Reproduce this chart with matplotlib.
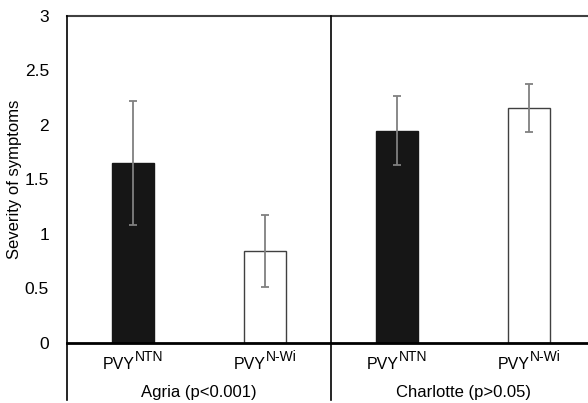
import matplotlib
matplotlib.use("Agg")
import matplotlib.pyplot as plt
from matplotlib.transforms import offset_copy

plt.rcParams['font.family'] = ['Liberation Sans', 'DejaVu Sans']

cultivars = ['Agria (p<0.001)', 'Charlotte (p>0.05)']
strains = ['NTN', 'N-Wi']
means = [1.65, 0.845, 1.945, 2.155]
errors = [0.57, 0.33, 0.315, 0.22]
fills = ['#161616', 'white', '#161616', 'white']
yticks = [0, 0.5, 1, 1.5, 2, 2.5, 3]
ytick_labels = ['0', '0.5', '1', '1.5', '2', '2.5', '3']

fig = plt.figure(figsize=(5.88, 4.03), dpi=100)
ax = fig.add_axes([67/588, 60/403, 528/588, 327.5/403])

x = list(range(len(means)))
ax.bar(x, means, width=0.32, color=fills, edgecolor=['#161616', '#404040', '#161616', '#404040'],
       linewidth=1.0, zorder=2)
ax.errorbar(x, means, yerr=errors, fmt='none', ecolor='#808080', elinewidth=1.3,
            capsize=3, capthick=1.3, zorder=3)

ax.set_xlim(-0.5, 3.5)
ax.set_ylim(0, 3)
ax.set_yticks(yticks)
ax.set_yticklabels(ytick_labels, fontsize=12.5)
ax.set_xticks([])
ax.tick_params(axis='y', length=0, pad=13)
ax.text(-0.0985, 0.5, 'Severity of symptoms', transform=ax.transAxes, rotation=90,
        ha='center', va='center', fontsize=12)

for side in ['right', 'bottom', 'left']:
    ax.spines[side].set_visible(False)
ax.spines['top'].set_color('#404040')
ax.spines['top'].set_linewidth(1.5)

ax.axhline(0, color='black', lw=2, zorder=4, clip_on=False)
ax.axvline(-0.5, ymin=-0.174, ymax=1, color='black', lw=1.2, clip_on=False, zorder=4)
ax.axvline(1.5, ymin=-0.174, ymax=1, color='black', lw=1.2, clip_on=False, zorder=4)

trans = ax.get_xaxis_transform()
renderer = fig.canvas.get_renderer()
main_fs, sup_fs = 11.5, 10
y_base = -0.0794
sup_rise = 8  # pixels
labels = [s for _ in cultivars for s in strains]
for xi, s in zip(x, labels):
    tmp1 = ax.text(0, 0, 'PVY', fontsize=main_fs)
    tmp2 = ax.text(0, 0, s, fontsize=sup_fs)
    w1 = tmp1.get_window_extent(renderer).width
    w2 = tmp2.get_window_extent(renderer).width
    tmp1.remove()
    tmp2.remove()
    total = w1 + w2
    t1 = offset_copy(trans, fig=fig, x=-total / 2, y=0, units='dots')
    ax.text(xi, y_base, 'PVY', transform=t1, ha='left', va='baseline', fontsize=main_fs, clip_on=False)
    t2 = offset_copy(trans, fig=fig, x=-total / 2 + w1, y=sup_rise, units='dots')
    ax.text(xi, y_base, s, transform=t2, ha='left', va='baseline', fontsize=sup_fs, clip_on=False)

for i, c in enumerate(cultivars):
    ax.text(2 * i + 0.5, -0.15, c, transform=trans, ha='center', va='center', fontsize=12)

fig.savefig('out.png', dpi=100)
